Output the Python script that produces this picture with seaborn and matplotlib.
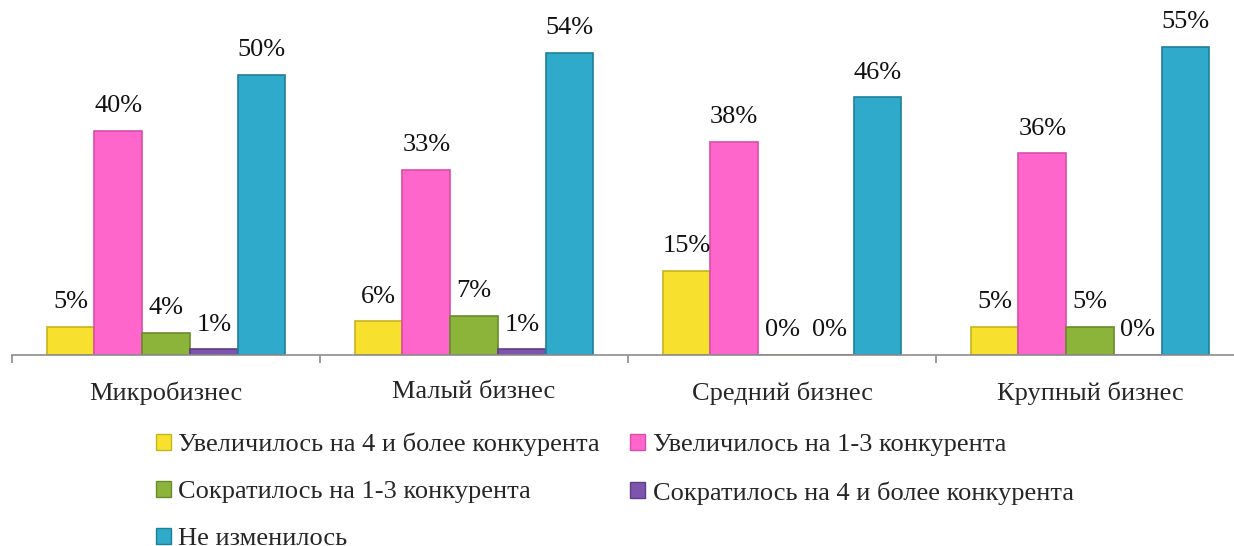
import pandas as pd
import matplotlib
matplotlib.use('Agg')
import matplotlib.pyplot as plt
import seaborn as sns
from matplotlib.patches import Patch

# data
groups = ['Микробизнес', 'Малый бизнес', 'Средний бизнес', 'Крупный бизнес']
series = [
    'Увеличилось на 4 и более конкурента',
    'Увеличилось на 1-3 конкурента',
    'Сократилось на 1-3 конкурента',
    'Сократилось на 4 и более конкурента',
    'Не изменилось',
]
inc_4plus = [5, 6, 15, 5]
inc_1_3 = [40, 33, 38, 36]
dec_1_3 = [4, 7, 0, 5]
dec_4plus = [1, 1, 0, 0]
unchanged = [50, 54, 46, 55]

colors = ['#F7E12E', '#FF66CC', '#8CB43A', '#7E55AE', '#2FAACB']
edges = ['#C8B41E', '#D84EA8', '#6A8A2A', '#5E3D86', '#1F7F99']

rows = []
for name, vals in zip(series, [inc_4plus, inc_1_3, dec_1_3, dec_4plus, unchanged]):
    for g, v in zip(groups, vals):
        rows.append({'group': g, 'series': name, 'value': v})
df = pd.DataFrame(rows)

sns.set_style('white')
plt.rcParams['font.family'] = ['Liberation Serif', 'DejaVu Serif']

fig = plt.figure(figsize=(12.34, 5.46), dpi=100)
ax = fig.add_axes([12 / 1234, 191 / 546, 1232 / 1234, 336 / 546])

sns.barplot(data=df, x='group', y='value', hue='series', palette=colors,
            width=0.775, ax=ax, legend=False, saturation=1)

for cont, ec in zip(ax.containers, edges):
    for p in cont:
        p.set_edgecolor(ec)
        p.set_linewidth(1.2)
    ax.bar_label(cont, fmt='%.0f%%', padding=10, fontsize=19, color='#111111')

ax.set_ylim(0, 60)
ax.set_xlim(-0.5, 3.5)
ax.set_xlabel('')
ax.set_ylabel('')
ax.set_yticks([])
for s in ['left', 'right', 'top']:
    ax.spines[s].set_visible(False)
ax.spines['bottom'].set_color('#8C8C8C')
ax.spines['bottom'].set_linewidth(1.2)
ax.tick_params(axis='x', which='major', length=0, pad=19, labelsize=19)
ax.set_xticks([-0.5, 0.5, 1.5, 2.5, 3.5], minor=True)
ax.tick_params(axis='x', which='minor', length=6, width=1.2, color='#8C8C8C',
               direction='out', bottom=True)

# legend: row-wise order with two columns
handles = [Patch(facecolor=c, edgecolor=e, label=l)
           for c, e, l in zip(colors, edges, series)]
order = [0, 2, 4, 1, 3]
fig.legend([handles[i] for i in order], [series[i] for i in order],
           loc='upper left', bbox_to_anchor=(156 / 1234, 1 - 433 / 546),
           ncol=2, frameon=False, fontsize=19, handlelength=0.55,
           handleheight=0.55, handletextpad=0.3, columnspacing=1.15,
           labelspacing=0.93, borderaxespad=0, borderpad=0)

fig.savefig('out.png', dpi=100)
